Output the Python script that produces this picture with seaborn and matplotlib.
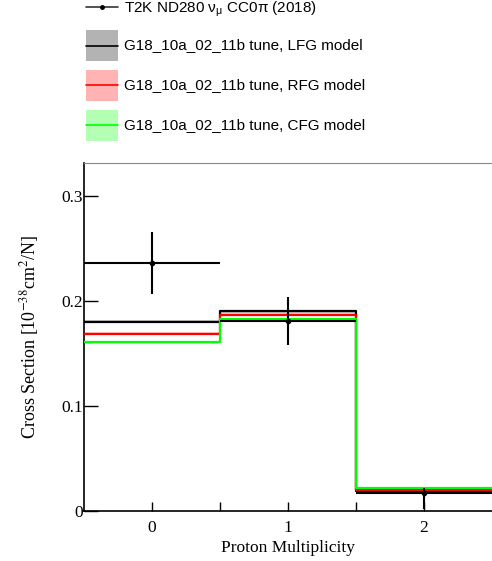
import numpy as np
import pandas as pd
import matplotlib
matplotlib.use("Agg")
import matplotlib.pyplot as plt
import seaborn as sns
from matplotlib.lines import Line2D
from matplotlib.patches import Rectangle

# ---- data ----
bin_edges = [-0.5, 0.5, 1.5, 2.5]
bin_centers = [0, 1, 2]
data_vals = [0.236, 0.181, 0.0172]
data_err_lo = [0.0295, 0.0225, 0.0152]
data_err_hi = [0.0295, 0.0225, 0.0050]
lfg_vals = [0.1803, 0.1900, 0.0190]
rfg_vals = [0.1690, 0.1870, 0.0197]
cfg_vals = [0.1606, 0.1826, 0.0216]
band_half = [0.0015, 0.0015, 0.0010]
tick_vals = [0, 1, 2]
ytick_vals = [0, 0.1, 0.2, 0.3]
ytick_labels = ["0", "0.1", "0.2", "0.3"]

models = [
    ("G18_10a_02_11b tune, LFG model", lfg_vals, "black", "#b3b3b3"),
    ("G18_10a_02_11b tune, RFG model", rfg_vals, "#ff0000", "#ffb3b3"),
    ("G18_10a_02_11b tune, CFG model", cfg_vals, "#00ff00", "#b3ffb3"),
]

sns.set_theme(style="white")
plt.rcParams["font.family"] = ["Liberation Serif", "DejaVu Serif"]

W, H = 492, 561
fig = plt.figure(figsize=(W / 100, H / 100), dpi=100)
ax = fig.add_axes([84 / W, 50 / H, (W - 84) / W, (511 - 163) / H])

# model histograms (step lines) with thin bands
for name, vals, col, fcol in models:
    xs = list(bin_edges)
    ys = list(vals) + [vals[-1]]
    lo = [v - b for v, b in zip(vals, band_half)]
    hi = [v + b for v, b in zip(vals, band_half)]
    ax.fill_between(xs, lo + [lo[-1]], hi + [hi[-1]], step="post",
                    color=fcol, lw=0, alpha=0.8, zorder=2)
    df = pd.DataFrame({"x": xs, "y": ys})
    sns.lineplot(data=df, x="x", y="y", ax=ax, color=col, lw=1.6,
                 drawstyle="steps-post", zorder=3, estimator=None, sort=False)

# data points
ax.errorbar(bin_centers, data_vals,
            xerr=0.5, yerr=[data_err_lo, data_err_hi],
            fmt="o", color="black", ms=3, elinewidth=1.5, capsize=0, zorder=5)

ax.set_xlim(-0.5, 2.5)
ax.set_ylim(0, (511 - 163) / 1050)
ax.set_xticks(tick_vals)
ax.set_xticks([0.5, 1.5], minor=True)
ax.set_xticklabels([str(t) for t in tick_vals])
ax.set_yticks(ytick_vals)
ax.set_yticklabels(ytick_labels)
ax.tick_params(axis="x", which="both", direction="in", length=6.5, width=1,
               pad=6.5, labelsize=12.5, color="black", bottom=True)
ax.tick_params(axis="y", which="both", direction="in", length=10, width=1,
               pad=1, labelsize=12.5, color="black", left=True)
for lab in ax.get_xticklabels() + ax.get_yticklabels():
    lab.set_color("black")

for s in ["left", "bottom"]:
    ax.spines[s].set_color("black")
    ax.spines[s].set_linewidth(1.2)
ax.spines["top"].set_color("#888888")
ax.spines["top"].set_linewidth(0.8)
ax.spines["right"].set_visible(False)
ax.set_xlabel("")
ax.set_ylabel("")
ax.grid(False)

fig.text(288 / W, 1 - 548 / H, "Proton Multiplicity", ha="center", va="center",
         fontsize=12.5, color="black")
fig.text(30 / W, 1 - 337 / H, r"Cross Section [10$^{-38}$cm$^{2}$/N]",
         ha="center", va="center", rotation=90, fontsize=13,
         color="black", math_fontfamily="stix")

# ---- legend (manual, in pixel layout) ----
def fx(px):
    return px / W

def fy(py):
    return 1 - py / H

sans = ["Liberation Sans", "DejaVu Sans"]
fig.add_artist(Line2D([fx(86), fx(118)], [fy(7), fy(7)], color="#333333", lw=1.2))
fig.add_artist(Line2D([fx(102)], [fy(7)], marker="o", ms=2.5, color="black"))
fig.text(fx(124), fy(9), r"T2K ND280 ν$_{\mathregular{μ}}$ CC0π (2018)", ha="left",
         va="center", fontsize=11, family=sans, color="black")

rows = [45.5, 85.5, 125.5]
for (name, vals, col, fcol), yc in zip(models, rows):
    fig.add_artist(Rectangle((fx(86), fy(yc + 15.5)), (118 - 86) / W, 31 / H,
                             facecolor=fcol, edgecolor="none"))
    fig.add_artist(Line2D([fx(86), fx(118)], [fy(yc), fy(yc)], color=col, lw=1.2))
    fig.text(fx(124), fy(yc), name, ha="left", va="center", fontsize=11,
             family=sans, color="black")

fig.savefig("out.png", dpi=100)
